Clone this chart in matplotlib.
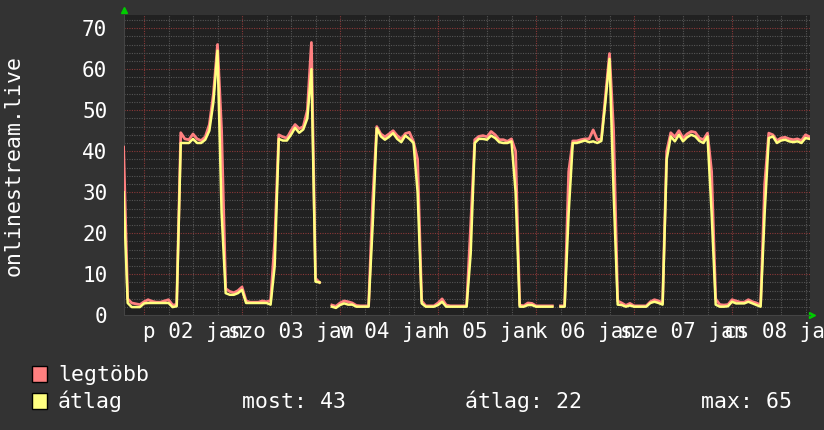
import matplotlib
matplotlib.use("Agg")
import matplotlib.pyplot as plt
import numpy as np
import pandas as pd
from matplotlib.patches import Rectangle

plt.rcParams['font.family'] = ['DejaVu Sans Mono']

nan = np.nan

# hourly samples, 2015-01-01 19:00 .. 2015-01-08 19:00
times = pd.date_range("2015-01-01 19:00", "2015-01-08 19:00", freq="h")

# legtöbb (max)
legtobb = [
    41, 4, 3, 2.8, 2.6,
    3.3, 3.8, 3.4, 3.2, 3.2, 3.5, 3.8, 2.5, 2.6, 44.5, 43, 42.8,
    44.2, 43, 42.6, 43.5, 46.5, 54, 66, 45, 6.5, 5.8, 5.5, 6,
    6.9, 3.5, 3.2, 3.2, 3.2, 3.5, 3.3, 3.6, 18, 44, 43.5, 43.2,
    45, 46.5, 45.5, 46, 50, 66.5, 9, 8, nan, nan, 2.5, 2.2,
    3, 3.5, 3.3, 3, 2.4, 2.3, 2.3, 2.3, 28, 46, 44.2, 43.5,
    44.2, 45, 43.8, 43, 44.3, 44.6, 42.3, 38, 3.5, 2.3, 2.3, 2.3,
    3, 4, 2.5, 2.3, 2.3, 2.3, 2.3, 2.3, 22, 42.8, 43.6, 43.8,
    43.5, 44.8, 44, 42.8, 42.8, 42.4, 43, 40, 2.5, 2.3, 3, 2.9,
    2.3, 2.3, 2.3, 2.3, 2.3, nan, 2.3, 2.3, 35, 42.5, 42.5, 42.8,
    43, 43, 45.2, 42.8, 43, 53.5, 63.8, 45, 3.5, 3, 2.4, 2.9,
    2.3, 2.3, 2.3, 2.3, 3.3, 3.8, 3.5, 3, 40, 44.5, 43.5, 45,
    43.2, 44.2, 44.8, 44.6, 43.2, 42.8, 44.4, 35, 4, 2.6, 2.5, 2.6,
    3.8, 3.5, 3.2, 3.2, 3.8, 3.3, 3, 2.5, 32, 44.4, 44, 42.6,
    43.2, 43.4, 43, 42.8, 43, 42.6, 44, 43.5,
]

# átlag (average)
atlag = [
    30, 3, 2, 2, 2,
    2.9, 3, 3, 3, 3, 3, 3, 2, 2.2, 42, 42, 42,
    43, 42, 42, 42.8, 45, 52, 64.5, 25, 5.4, 5, 5, 5.4,
    6.2, 3, 3, 3, 3, 3, 3, 2.6, 12, 43, 42.6, 42.6,
    44, 45.7, 44.5, 45.3, 48, 60, 8.2, 8, nan, nan, 2.1, 1.8,
    2.5, 2.9, 2.6, 2.6, 2.1, 2.1, 2.1, 2.1, 22, 45.6, 43.6, 42.8,
    43.5, 44.4, 43, 42.2, 43.8, 43, 42, 30, 2.9, 2.1, 2.1, 2.1,
    2.5, 3.3, 2.1, 2.1, 2.1, 2.1, 2.1, 2.1, 15, 42, 43, 43,
    42.8, 43.8, 43.2, 42.2, 42, 42, 42.4, 30, 2.1, 2.1, 2.5, 2.5,
    2.1, 2.1, 2.1, 2.1, 2.1, nan, 2.1, 2.1, 25, 42, 42, 42.3,
    42.6, 42.2, 42.4, 42, 42.5, 52, 62.5, 30, 2.6, 2.5, 2.1, 2.4,
    2.1, 2.1, 2.1, 2.1, 3, 3.3, 3, 2.6, 38, 43.6, 42.4, 44,
    42.4, 43.4, 44, 43.6, 42.5, 42, 43.6, 25, 2.6, 2.1, 2.1, 2.2,
    3.3, 2.9, 2.9, 2.9, 3.3, 2.9, 2.5, 2.1, 25, 43.2, 43.6, 42,
    42.6, 42.8, 42.4, 42.2, 42.4, 42, 43.2, 43,
]

day_labels = ["p 02 jan", "szo 03 jan", "v 04 jan", "h 05 jan",
              "k 06 jan", "sze 07 jan", "cs 08 jan"]
label_times = pd.date_range("2015-01-02 12:00", periods=len(day_labels), freq="D")

legend_names = ["legtöbb", "átlag"]
legend_colors = ["#ff8080", "#ffff80"]
stats = ["most: 43", "átlag: 22", "max: 65"]

bg = "#333333"
fig = plt.figure(figsize=(8.24, 4.30), dpi=100, facecolor=bg)
ax = fig.add_axes([124 / 824, 1 - 315.3 / 430, 685.6 / 824, 300.3 / 430])
ax.set_facecolor("#212121")

x0 = pd.Timestamp("2015-01-01 19:06")
x1 = pd.Timestamp("2015-01-08 19:00")
ymax = 73.2

# grid: minor every 6h / 2 units, major every day / 10 units
for t in pd.date_range("2015-01-02 00:00", "2015-01-08 18:00", freq="6h"):
    major = t.hour == 0
    ax.axvline(t, color="#8a3838" if major else "#555555",
               linestyle=(0, (1, 1.2)), lw=0.8, zorder=1)
for v in np.arange(2, ymax, 2):
    major = int(v) % 10 == 0
    ax.axhline(v, color="#8a3838" if major else "#555555",
               linestyle=(0, (1, 1.2)), lw=0.8, zorder=1)

ax.plot(times, legtobb, color=legend_colors[0], lw=2.0, zorder=3)
ax.plot(times, atlag, color=legend_colors[1], lw=1.8, zorder=4)

ax.set_xlim(x0, x1)
ax.set_ylim(0, ymax)

ax.set_yticks(range(0, 71, 10))
ax.set_xticks(label_times)
ax.set_xticklabels(day_labels)
ax.tick_params(axis="y", colors="white", labelsize=15, length=0, pad=12)
ax.tick_params(axis="x", colors="white", labelsize=15, length=0, pad=5)

for side in ["top", "right"]:
    ax.spines[side].set_visible(False)
for side in ["bottom", "left"]:
    ax.spines[side].set_color("#444444")

# rrdtool style axis arrows
ax.plot([0], [1.017], marker="^", color="#00cc00", markersize=5,
        transform=ax.transAxes, clip_on=False)
ax.plot([1.004], [0], marker=">", color="#00cc00", markersize=5,
        transform=ax.transAxes, clip_on=False)

fig.text(14 / 824, 1 - 165 / 430, "onlinestream.live", rotation=90,
         ha="center", va="center", color="white", fontsize=15.5)

# legend
rows = [380.7, 408.3]
for name, color, base in zip(legend_names, legend_colors, rows):
    fig.add_artist(Rectangle((32 / 824, 1 - (base + 1) / 430), 15 / 824, 16 / 430,
                             transform=fig.transFigure, facecolor=color,
                             edgecolor="black", lw=1))
    fig.text(58 / 824, 1 - base / 430, name, color="white", fontsize=15.5,
             va="baseline")
for txt, xpos in zip(stats, [242, 465, 701]):
    fig.text(xpos / 824, 1 - rows[1] / 430, txt, color="white", fontsize=15.5,
             va="baseline")

fig.savefig("out.png", dpi=100, facecolor=bg)
